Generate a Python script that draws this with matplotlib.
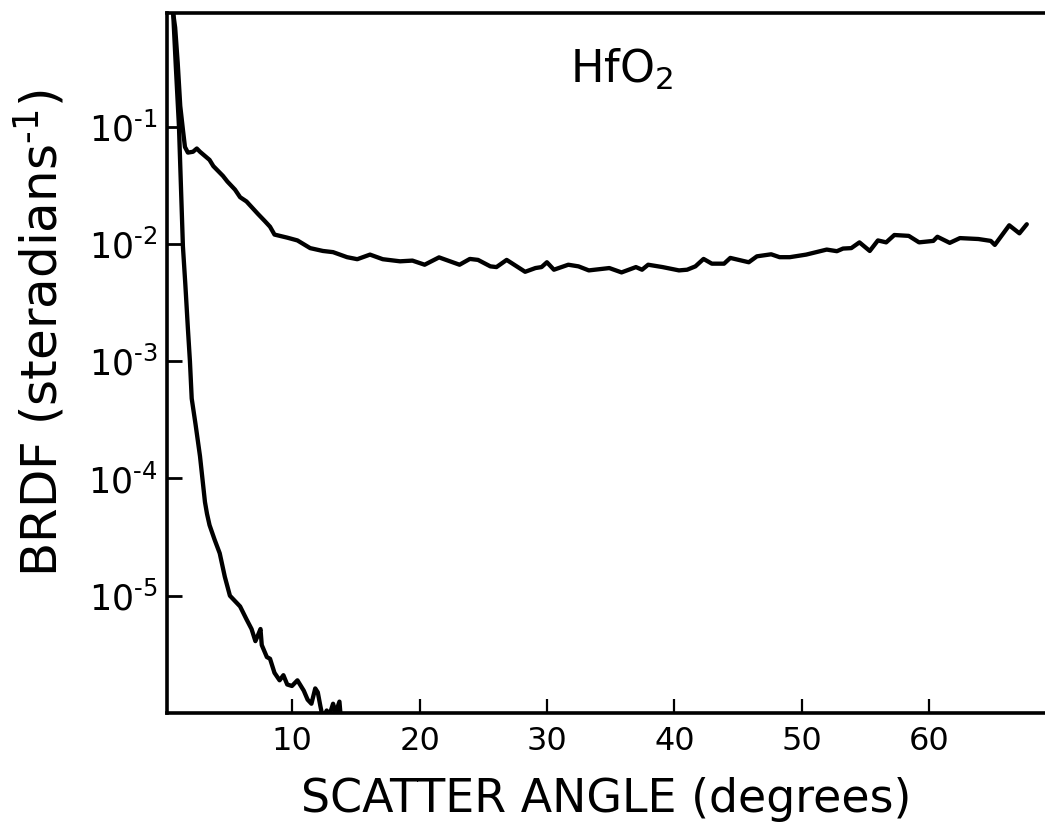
import matplotlib
matplotlib.use("Agg")
import matplotlib.pyplot as plt
from matplotlib.ticker import FixedLocator, NullLocator

plt.rcParams['font.family'] = ['DejaVu Sans']
plt.rcParams['mathtext.fontset'] = 'dejavusans'

# Coated sample (HfO2): diffuse scatter level
coated_angle = [0.55, 0.8, 1.0, 1.2, 1.41, 1.57, 1.8, 2.2, 2.5, 2.75, 3.5, 3.8, 4.55, 4.9,
                5.5, 5.9, 6.4, 7.3, 7.85, 8.25, 8.6, 9.6, 10.4, 11.4, 12.4, 13.2, 14.3,
                15.1, 16.1, 17.1, 18.46, 19.43, 20.39, 21.52, 23.13, 23.94, 24.58, 25.55,
                26.03, 26.83, 28.28, 29.09, 29.57, 29.99, 30.54, 31.67, 32.47, 33.28,
                34.89, 35.85, 36.98, 37.46, 37.94, 39.07, 40.36, 41.0, 41.65, 42.29,
                42.94, 43.9, 44.39, 45.84, 46.48, 47.6, 48.26, 49.06, 50.35, 51.96,
                52.76, 53.24, 53.89, 54.53, 55.34, 55.98, 56.63, 57.27, 58.4, 59.21,
                60.33, 60.65, 61.62, 62.42, 63.87, 64.84, 65.16, 66.29, 67.09, 67.67]
coated_brdf = [1.1, 0.7, 0.35, 0.15, 0.094, 0.067, 0.060, 0.061, 0.065, 0.061, 0.052,
               0.046, 0.038, 0.034, 0.029, 0.025, 0.023, 0.018, 0.0156, 0.014, 0.012,
               0.0113, 0.0107, 0.0092, 0.0087, 0.0085, 0.0077, 0.0074, 0.0081, 0.0074,
               0.0071, 0.0072, 0.00664, 0.00767, 0.00664, 0.00744, 0.0073, 0.00643,
               0.00634, 0.0073, 0.00578, 0.00622, 0.00634, 0.00697, 0.00602, 0.00664,
               0.00643, 0.00594, 0.00622, 0.00571, 0.00634, 0.00602, 0.00664, 0.00634,
               0.00594, 0.00602, 0.00643, 0.00744, 0.00678, 0.00678, 0.00759, 0.00697,
               0.00783, 0.00815, 0.0077, 0.0077, 0.0081, 0.00894, 0.00866, 0.00912,
               0.0092, 0.0103, 0.0087, 0.0107, 0.0103, 0.0119, 0.0117, 0.0103, 0.0106,
               0.0115, 0.0102, 0.0112, 0.0110, 0.0106, 0.0098, 0.0144, 0.0123, 0.0147]

# Uncoated reference: specular peak falling to the noise floor
bare_angle = [0.55, 0.63, 0.85, 1.1, 1.25, 1.41, 1.6, 1.8, 1.96, 2.1, 2.4, 2.75, 3.14,
              3.3, 3.5, 3.9, 4.3, 4.7, 5.1, 5.5, 5.9, 6.4, 6.8, 7.1, 7.3, 7.5, 7.6, 8.0,
              8.25, 8.6, 9.0, 9.3, 9.6, 9.97, 10.4, 10.9, 11.2, 11.5, 11.8, 12.0, 12.2,
              12.4, 12.7, 12.9, 13.2, 13.4, 13.7, 13.85]
bare_brdf = [1.2, 1.0, 0.33, 0.1, 0.032, 0.0095, 0.0045, 0.0019, 0.0010, 0.00048,
             0.00029, 0.000155, 6.3e-5, 5.0e-5, 4.0e-5, 3.0e-5, 2.3e-5, 1.45e-5, 1.0e-5,
             9.0e-6, 8.1e-6, 6.3e-6, 5.2e-6, 4.1e-6, 4.6e-6, 5.2e-6, 3.8e-6, 3.0e-6,
             2.9e-6, 2.2e-6, 1.9e-6, 2.1e-6, 1.75e-6, 1.7e-6, 1.9e-6, 1.55e-6, 1.3e-6,
             1.2e-6, 1.62e-6, 1.5e-6, 1.15e-6, 0.9e-6, 1.05e-6, 0.95e-6, 1.2e-6, 1.0e-6,
             1.25e-6, 0.8e-6]

x_ticks = [10, 20, 30, 40, 50, 60]
y_ticks = [1e-1, 1e-2, 1e-3, 1e-4, 1e-5]
# short hyphen (U+2010) in the exponents rather than a wide minus sign
y_tick_labels = ['$10^{\u20101}$', '$10^{\u20102}$', '$10^{\u20103}$',
                 '$10^{\u20104}$', '$10^{\u20105}$']

fig = plt.figure(figsize=(10.45, 8.25), dpi=100)
ax = fig.add_axes([167 / 1045, 1 - 713 / 825, 1 - 167 / 1045, (713 - 13) / 825])

line_kw = dict(color='black', linewidth=3.1, solid_joinstyle='round', solid_capstyle='round')
ax.plot(coated_angle, coated_brdf, **line_kw)
ax.plot(bare_angle, bare_brdf, **line_kw)

ax.set_yscale('log')
ax.set_xlim(0.16, 69.1)
ax.set_ylim(1e-6, 0.93)

for side in ('left', 'top', 'bottom'):
    ax.spines[side].set_linewidth(2.6)
ax.spines['right'].set_visible(False)

ax.xaxis.set_major_locator(FixedLocator(x_ticks))
ax.xaxis.set_minor_locator(NullLocator())
ax.yaxis.set_major_locator(FixedLocator(y_ticks))
ax.yaxis.set_minor_locator(NullLocator())
ax.set_xticklabels([str(t) for t in x_ticks])
ax.set_yticklabels(y_tick_labels)

ax.tick_params(axis='x', direction='in', length=10, width=1.6, labelsize=23, pad=9)
ax.tick_params(axis='y', direction='in', length=11, width=2.0, labelsize=25, pad=7)

ax.text(0.518, 0.90, 'HfO$_2$', transform=ax.transAxes, fontsize=32,
        ha='center', va='baseline')

fig.text(606 / 1045, 1 - 812 / 825, 'SCATTER ANGLE (degrees)', fontsize=33,
         ha='center', va='baseline')
fig.text(40 / 1045, 1 - 333 / 825, 'BRDF (steradians$^{\u20101}$)', fontsize=36,
         rotation=90, ha='center', va='center')

fig.savefig('out.png', dpi=100)
